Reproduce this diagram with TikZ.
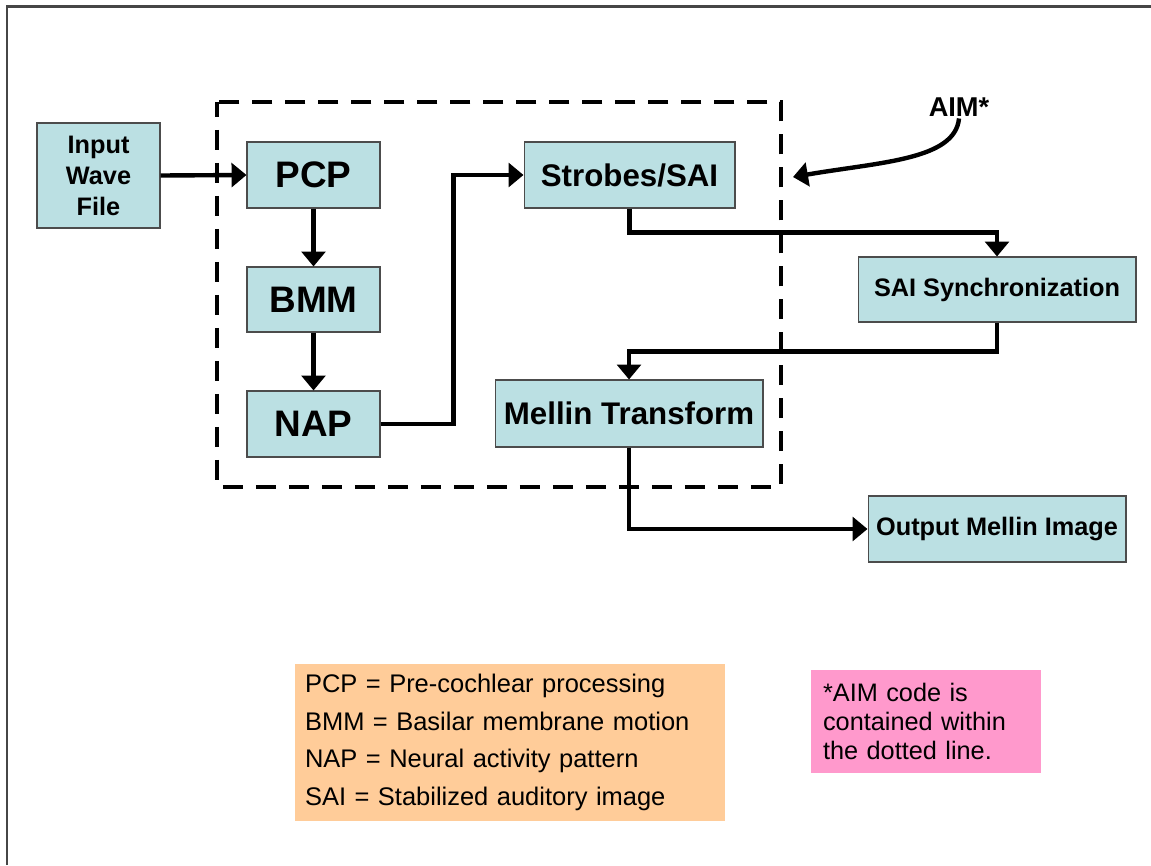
\documentclass[tikz,border=0pt]{standalone}
\usepackage{fontspec}
\setmainfont{Liberation Sans}
\usetikzlibrary{arrows.meta}

\definecolor{boxcyan}{RGB}{187,224,227}
\definecolor{keyorange}{RGB}{255,204,153}
\definecolor{notepink}{RGB}{255,153,204}
\definecolor{framegray}{RGB}{70,70,70}

\begin{document}
\begin{tikzpicture}[x=0.02cm, y=-0.02cm,
	blk/.style={draw=black!70, line width=0.6pt, fill=boxcyan, align=center,
        inner sep=0pt},
	bigtxt/.style={font=\fontsize{21}{25}\selectfont\bfseries},
	midtxt/.style={font=\fontsize{17.8}{21}\selectfont\bfseries},
	smalltxt/.style={font=\fontsize{14.4}{17.6}\selectfont\bfseries},
	flow/.style={line width=2.5pt, -{Triangle[length=8.5pt, width=13.5pt]}}]
	\useasboundingbox (0,0) rectangle (1151,865);
	\draw[framegray, line width=1.2pt] (7,865) -- (7,6.5) -- (1151,6.5);
	% AIM part
	\draw[line width=2.8pt, dash pattern=on 0.4cm off 0.26cm, dash phase=0.1cm]
        (217,102) rectangle (781,487);
	\node (In) at (98.5,175.5) [blk, smalltxt, minimum width=2.46cm,
        minimum height=2.1cm] {Input\\Wave\\File};
	\node (PCP) at (313.5,175) [blk, bigtxt, minimum width=2.66cm,
        minimum height=1.32cm] {PCP};
	\node (BMM) at (313.5,299.5) [blk, bigtxt, minimum width=2.66cm,
        minimum height=1.3cm] {BMM};
	\node (NAP) at (313.5,424) [blk, bigtxt, minimum width=2.66cm,
        minimum height=1.32cm] {NAP};
	\node (SAI) at (629.5,175) [blk, midtxt, minimum width=4.22cm,
        minimum height=1.32cm] {Strobes/SAI};
	\node (Sync) at (997,289.5) [blk, smalltxt, minimum width=5.56cm,
        minimum height=1.3cm] {SAI Synchronization};
	\node (Mel) at (629,413.5) [blk, midtxt, minimum width=5.36cm,
        minimum height=1.34cm] {Mellin Transform};
	\node (Out) at (997,529) [blk, smalltxt, minimum width=5.16cm,
        minimum height=1.32cm] {Output Mellin Image};
	\node (AIM) at (959,107) [font=\fontsize{15.5}{18}\selectfont\bfseries,
        inner sep=1pt] {AIM*};
	\coordinate (AIMend) at (793,177);
	% arrows
	\draw[flow] (In.east) -- (PCP.west);
	\draw[flow] (PCP) -- (BMM);
	\draw[flow] (BMM) -- (NAP);
	\draw[flow] (NAP.east) -- ++(73,0) |- (SAI.west);
	\draw[flow] (SAI.south) -- ++(0,24) -| (Sync.north);
	\draw[flow] (Sync.south) -- ++(0,29) -| (Mel.north);
	\draw[flow] (Mel.south) |- (Out.west);
	\draw[flow] (AIM.south) .. controls (955,160) and (880,162) .. (AIMend);
	% key boxes
	\node (Key) at (510,742.5) [fill=keyorange, minimum width=8.6cm,
        minimum height=3.14cm, text width=8.2cm, align=left,
        font=\fontsize{14.5}{21.5}\selectfont] {PCP = Pre-cochlear processing\\
        BMM = Basilar membrane motion\\NAP = Neural activity pattern\\
        SAI = Stabilized auditory image};
	\node (Note) at (926,721.5) [fill=notepink, minimum width=4.6cm,
        minimum height=2.06cm, text width=4.12cm, align=left,
        font=\fontsize{14.4}{16.4}\selectfont] {*AIM code is\\contained within\\
        the dotted line.};
\end{tikzpicture}
\end{document}
